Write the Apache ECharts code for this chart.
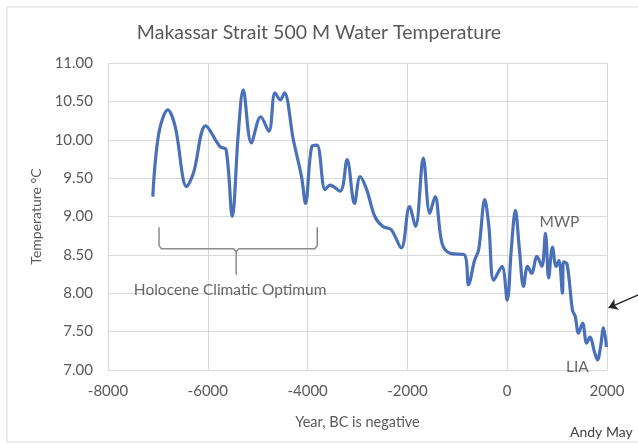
<!DOCTYPE html>
<html>
<head>
<meta charset="utf-8">
<script src="https://cdn.jsdelivr.net/npm/echarts@6/dist/echarts.min.js"></script>
<style>
html,body{margin:0;padding:0;background:#fff;}
#chart{width:638px;height:444px;}
</style>
</head>
<body>
<div id="chart"></div>
<script>
// Series: year, temperature (°C)
var years = [-7102,-6980,-6800,-6653,-6424,-6286,-6041,-5755,-5633,-5510,-5388,-5290,-5127,-4939,-4776,-4653,-4547,-4465,-4286,-4122,-4041,-3918,-3812,-3649,-3551,-3347,-3208,-3061,-2947,-2816,-2653,-2490,-2327,-2122,-1959,-1837,-1681,-1551,-1445,-1306,-1143,-857,-776,-653,-571,-449,-367,-269,-106,0,82,164,245,327,408,490,596,694,767,830,907,980,1037,1107,1128,1200,1308,1363,1429,1510,1592,1657,1755,1810,1870,1930,1990];
var temps = [9.26,10.09,10.39,10.17,9.39,9.57,10.18,9.91,9.87,9.00,10.09,10.65,9.96,10.30,10.11,10.61,10.52,10.61,10.00,9.52,9.17,9.91,9.93,9.35,9.41,9.33,9.74,9.17,9.52,9.35,9.00,8.87,8.83,8.59,9.13,8.87,9.76,9.04,9.26,8.65,8.52,8.50,8.11,8.43,8.57,9.22,8.87,8.17,8.35,7.91,8.57,9.08,8.57,8.09,8.35,8.26,8.48,8.35,8.78,8.20,8.60,8.35,8.43,8.00,8.41,8.38,7.78,7.70,7.48,7.61,7.35,7.43,7.22,7.13,7.30,7.55,7.30];

// Axis ticks
var xTicks = [-8000,-6000,-4000,-2000,0,2000];
var yTicks = [7.00,7.50,8.00,8.50,9.00,9.50,10.00,10.50,11.00];

// Holocene brace outline in data coordinates
var braceX = [-6977,-6977,-6930,-5480,-5432,-5432,-5432,-5384,-3855,-3807,-3807];
var braceY = [8.86,8.62,8.58,8.58,8.54,8.24,8.54,8.58,8.58,8.62,8.86];

// Annotation labels
var noteNames = ['Holocene Climatic Optimum','MWP','LIA'];
var noteX = [-5553,1047,1408];
var noteY = [8.04,8.93,7.04];

// Arrow (tail -> tip)
var arrowX = [2631,2030];
var arrowY = [7.98,7.81];

var lineData = years.map(function(y,i){return [y,temps[i]];});
var braceData = braceX.map(function(x,i){return [x,braceY[i]];});
var noteData = noteNames.map(function(n,i){return {name:n,value:[noteX[i],noteY[i]]};});

var font = 'Lato, "Open Sans", sans-serif';
var chart = echarts.init(document.getElementById('chart'));
chart.setOption({
  animation:false,
  backgroundColor:'#fff',
  title:{
    text:'Makassar Strait 500 M Water Temperature',
    left:'center', top:18,
    textStyle:{fontFamily:font,fontSize:19.5,fontWeight:'normal',color:'#595959'}
  },
  graphic:[
    {type:'rect',shape:{x:7,y:7,width:660,height:435},style:{fill:'none',stroke:'#d9d9d9',lineWidth:1},silent:true},
    {type:'text',left:570,top:425,style:{text:'Andy May',fontFamily:font,fontSize:14,fill:'#404040'}}
  ],
  grid:{left:108,right:31,top:63,bottom:74},
  xAxis:{
    type:'value', min:xTicks[0], max:xTicks[xTicks.length-1], interval:2000,
    name:'Year, BC is negative', nameLocation:'middle', nameGap:45,
    nameTextStyle:{fontFamily:font,fontSize:14.5,color:'#595959'},
    axisLine:{show:true,lineStyle:{color:'#d9d9d9',width:1}},
    axisTick:{show:false},
    axisLabel:{fontFamily:font,fontSize:15,color:'#595959',margin:14,formatter:function(v){return String(v);}},
    splitLine:{show:true,lineStyle:{color:'#d9d9d9',width:1}}
  },
  yAxis:{
    type:'value', min:yTicks[0], max:yTicks[yTicks.length-1], interval:0.5,
    name:'Temperature °C', nameLocation:'middle', nameGap:65, nameRotate:90,
    nameTextStyle:{fontFamily:font,fontSize:14,color:'#595959'},
    axisLine:{show:false}, axisTick:{show:false},
    axisLabel:{fontFamily:font,fontSize:15,color:'#595959',margin:15,formatter:function(v){return v.toFixed(2);}},
    splitLine:{show:true,lineStyle:{color:'#d9d9d9',width:1}}
  },
  series:[
    {type:'line',data:lineData,smooth:0.35,symbol:'none',lineStyle:{color:'#4a70b8',width:3.2},z:5},
    {type:'line',data:braceData,smooth:false,symbol:'none',lineStyle:{color:'#8c8c8c',width:1.5},z:4},
    {type:'scatter',data:noteData,symbolSize:0,z:6,
      label:{show:true,position:'inside',formatter:'{b}',fontFamily:font,fontSize:15.5,color:'#404040'}},
    {type:'lines',coordinateSystem:'cartesian2d',clip:false,z:6,
      symbol:['none','arrow'],symbolSize:9,
      lineStyle:{color:'#262626',width:1.5,opacity:1},
      data:[{coords:[[arrowX[0],arrowY[0]],[arrowX[1],arrowY[1]]]}]}
  ]
});
</script>
</body>
</html>
